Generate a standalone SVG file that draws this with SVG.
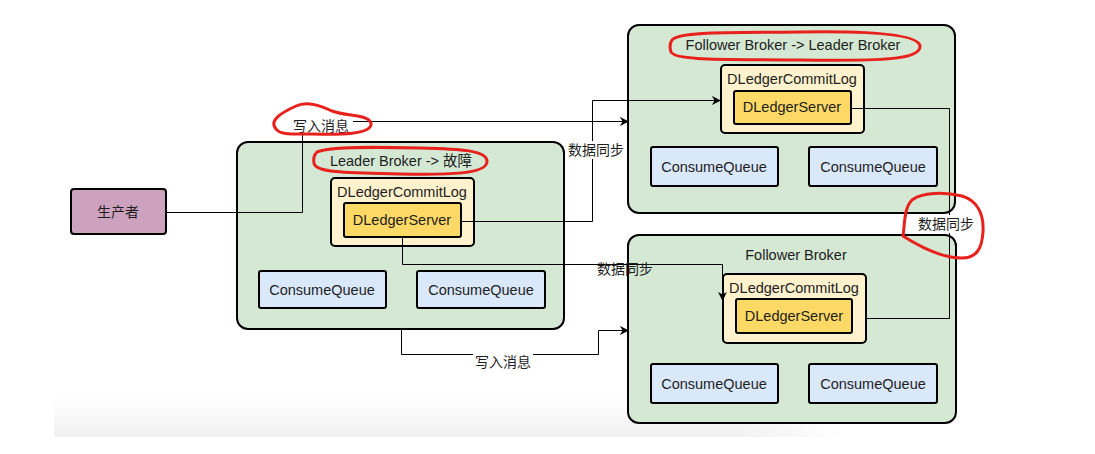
<svg xmlns="http://www.w3.org/2000/svg" width="1095" height="454" viewBox="0 0 1095 454">
<defs>
<linearGradient id="bandV" x1="0" y1="0" x2="0" y2="1">
<stop offset="0" stop-color="#ffffff"/>
<stop offset="1" stop-color="#f1f1f1"/>
</linearGradient>
<linearGradient id="bandH" x1="0" y1="0" x2="1" y2="0">
<stop offset="0" stop-color="#ffffff" stop-opacity="0"/>
<stop offset="1" stop-color="#ffffff" stop-opacity="1"/>
</linearGradient>
<marker id="arr" viewBox="0 0 10 10" refX="9" refY="5" markerWidth="9" markerHeight="9" markerUnits="userSpaceOnUse" orient="auto">
<path d="M0,0 L10,5 L0,10 L3,5 Z" fill="#000"/>
</marker>
<style>
text{font-family:"Liberation Sans","Noto Sans CJK SC",Arial,sans-serif;font-size:14.5px;fill:#1e1e1e;text-anchor:middle}
.cjk{font-size:14px}
.broker{fill:#d5e8d4;stroke:#000;stroke-width:2}
.log{fill:#fff2cc;stroke:#000;stroke-width:2}
.srv{fill:#ffd966;stroke:#000;stroke-width:2}
.cq{fill:#dae8fc;stroke:#000;stroke-width:2}
.prod{fill:#cda2be;stroke:#000;stroke-width:2}
.edge{fill:none;stroke:#000;stroke-width:1}
.lblbg{fill:#fff}
.red{fill:none;stroke:#e8211c;stroke-width:3;stroke-linejoin:round;stroke-linecap:round}
</style>
</defs>
<rect width="1095" height="454" fill="#fff"/>
<rect x="54" y="396" width="790" height="41" fill="url(#bandV)"/>
<rect x="740" y="396" width="104" height="41" fill="url(#bandH)"/>

<g id="producer">
<rect class="prod" x="71" y="189" width="95" height="45" rx="3"/>
<text class="cjk" x="118" y="217">生产者</text>
</g>

<g id="leader-broker">
<rect class="broker" x="237" y="142" width="327" height="187" rx="11"/>
<text x="401" y="166">Leader Broker -&gt; 故障</text>
<g id="leader-commitlog">
<rect class="log" x="331" y="178" width="143" height="68" rx="4"/>
<text x="402" y="197">DLedgerCommitLog</text>
</g>
<g id="leader-server">
<rect class="srv" x="344" y="203" width="117" height="34" rx="2"/>
<text x="402" y="225">DLedgerServer</text>
</g>
<g id="leader-cq1"><rect class="cq" x="259" y="271" width="127" height="37" rx="2"/><text x="322" y="295">ConsumeQueue</text></g>
<g id="leader-cq2"><rect class="cq" x="417" y="271" width="128" height="37" rx="2"/><text x="481" y="295">ConsumeQueue</text></g>
</g>

<g id="new-leader-broker">
<rect class="broker" x="628" y="25" width="327" height="188" rx="11"/>
<text x="793" y="50">Follower Broker -&gt; Leader Broker</text>
<g id="nl-commitlog">
<rect class="log" x="721" y="65" width="143" height="68" rx="4"/>
<text x="792" y="84">DLedgerCommitLog</text>
</g>
<g id="nl-server">
<rect class="srv" x="734" y="91" width="117" height="33" rx="2"/>
<text x="792" y="112">DLedgerServer</text>
</g>
<g id="nl-cq1"><rect class="cq" x="651" y="147" width="127" height="39" rx="2"/><text x="714" y="172">ConsumeQueue</text></g>
<g id="nl-cq2"><rect class="cq" x="809" y="147" width="128" height="39" rx="2"/><text x="873" y="172">ConsumeQueue</text></g>
</g>

<g id="follower-broker">
<rect class="broker" x="628" y="235" width="328" height="188" rx="11"/>
<text x="796" y="260">Follower Broker</text>
<g id="f-commitlog">
<rect class="log" x="723" y="274" width="143" height="69" rx="4"/>
<text x="794" y="293">DLedgerCommitLog</text>
</g>
<g id="f-server">
<rect class="srv" x="736" y="299" width="116" height="34" rx="2"/>
<text x="794" y="321">DLedgerServer</text>
</g>
<g id="f-cq1"><rect class="cq" x="651" y="364" width="127" height="39" rx="2"/><text x="714" y="389">ConsumeQueue</text></g>
<g id="f-cq2"><rect class="cq" x="809" y="364" width="128" height="39" rx="2"/><text x="873" y="389">ConsumeQueue</text></g>
</g>

<g id="connectors">
<path class="edge" d="M166,212.5 H302.5 V121.5 H628" marker-end="url(#arr)"/>
<path class="edge" d="M461,221.5 H592.5 V100.5 H720" marker-end="url(#arr)"/>
<path class="edge" d="M402.5,237 V264.5 H722.5 V300" marker-end="url(#arr)"/>
<path class="edge" d="M851,108.5 H949.5 V318.5 H866"/>
<path class="edge" d="M401.5,329 V354.5 H598.5 V330.5 H628" marker-end="url(#arr)"/>
<rect class="lblbg" x="290" y="117" width="63" height="18"/>
<text class="cjk" x="321" y="131">写入消息</text>
<rect class="lblbg" x="566" y="141" width="60" height="18"/>
<text class="cjk" x="596" y="155">数据同步</text>
<text class="cjk" x="625" y="274">数据同步</text>
<rect class="lblbg" x="916" y="215" width="60" height="18"/>
<text class="cjk" x="946" y="229">数据同步</text>
<rect class="lblbg" x="473" y="353" width="60" height="18"/>
<text class="cjk" x="503" y="367">写入消息</text>
</g>

<g id="annotations">
<path class="red" d="M276,129 C268,120 283,112 296,106 C306,101 318,104 332,111 C348,117 372,114 371,125 C369,134 342,135 312,134 C292,134 280,135 276,129 Z"/>
<path class="red" d="M317,152 C328,146 380,147 420,148 C460,149 488,150 487,162 C486,174 450,175 400,174 C350,173 315,173 314,163 C313,158 315,154 317,152 Z"/>
<path class="red" d="M672,40 C680,31 740,33 800,32 C860,31 918,33 920,46 C921,60 880,61 800,60 C730,59 675,61 671,52 C669,46 670,43 672,40 Z"/>
<path class="red" d="M903,236 C905,222 904,208 912,200 C922,192 945,192 962,196 C978,201 984,215 983,232 C982,248 977,258 962,258 C945,258 925,250 903,236 Z"/>
</g>
</svg>
